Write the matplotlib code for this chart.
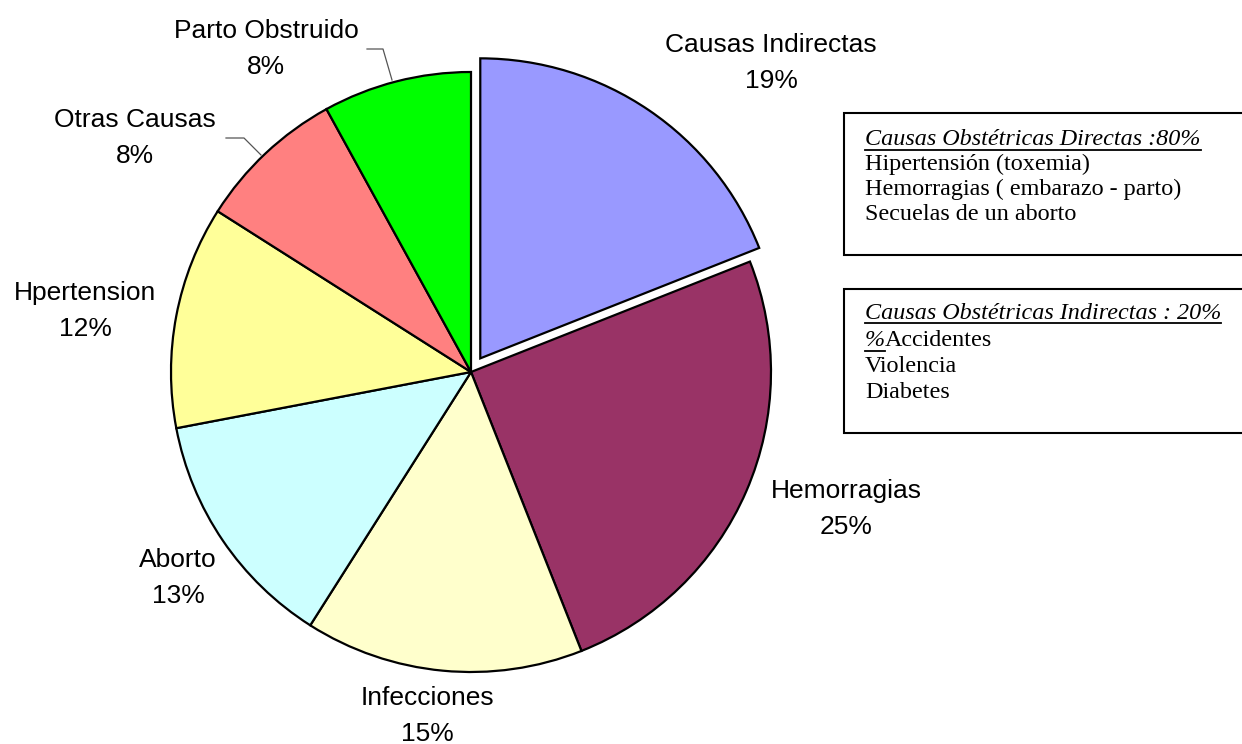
import matplotlib
matplotlib.use('Agg')
import matplotlib.pyplot as plt
from matplotlib.patches import Rectangle

# datos del grafico
categorias = ['Causas Indirectas', 'Hemorragias', 'Infecciones', 'Aborto',
              'Hpertension', 'Otras Causas', 'Parto Obstruido']
porcentajes = [19, 25, 15, 13, 12, 8, 8]
colores = ['#9999FF', '#993366', '#FFFFCC', '#CCFFFF', '#FFFF99', '#FF8080', '#00FF00']
separado = [0.055, 0, 0, 0, 0, 0, 0]

caja_directas_titulo = 'Causas Obstétricas Directas :80%'
caja_directas = ['Hipertensión (toxemia)', 'Hemorragias ( embarazo - parto)', 'Secuelas de un aborto']
caja_indirectas_titulo = 'Causas Obstétricas Indirectas : 20%'
caja_indirectas = ['Accidentes', 'Violencia', 'Diabetes']

# posiciones de las etiquetas (x centro, linea base en pixeles desde arriba)
pos_etiquetas = [(771, 52), (846, 498), (427, 705), (178, 567), (85, 300), (135, 127), (266, 38)]

W, H = 1242, 744
fig = plt.figure(figsize=(12.42, 7.44), dpi=100)
ax = fig.add_axes([0, 0, 1, 1])


def py(y):
    return H - y


radio = 300
ax.pie(porcentajes, colors=colores, startangle=90, counterclock=False,
       center=(471, py(372)), radius=radio, explode=[e * radio for e in separado],
       wedgeprops=dict(edgecolor='black', linewidth=1.6), frame=True)
ax.set_xlim(0, W)
ax.set_ylim(0, H)
ax.set_aspect('equal')
ax.axis('off')

fuente = 'Liberation Sans'
for nombre, v, (x, yb) in zip(categorias, porcentajes, pos_etiquetas):
    ax.text(x, py(yb), nombre, ha='center', va='baseline', fontsize=19, family=fuente)
    ax.text(x, py(yb + 36), f'{v}%', ha='center', va='baseline', fontsize=19, family=fuente)

# lineas guia
ax.plot([367, 383, 392], [py(49), py(49), py(80)], color='#555555', lw=0.9)
ax.plot([226, 244, 261], [py(138), py(138), py(155)], color='#555555', lw=0.9)

# cajas de texto
serif = 'Liberation Serif'
tam = 17.4
ax.add_patch(Rectangle((843.5, py(255)), 420, 142, facecolor='white',
                       edgecolor='black', lw=1.5, clip_on=False))
ax.add_patch(Rectangle((843.5, py(433)), 420, 144, facecolor='white',
                       edgecolor='black', lw=1.5, clip_on=False))

t1 = ax.text(865, py(145), caja_directas_titulo, fontsize=tam, family=serif,
             style='italic', va='baseline')
for i, linea in enumerate(caja_directas):
    ax.text(865, py(170 + 25 * i), linea, fontsize=tam, family=serif, va='baseline')

t2 = ax.text(865, py(319), caja_indirectas_titulo, fontsize=tam, family=serif,
             style='italic', va='baseline')
t3 = ax.text(865, py(346), '%', fontsize=tam, family=serif, style='italic', va='baseline')

fig.canvas.draw()
r = fig.canvas.get_renderer()
inv = ax.transData.inverted()


def subrayar(t, y):
    bb = t.get_window_extent(r)
    (x0, _), (x1, _) = inv.transform([(bb.x0, bb.y0), (bb.x1, bb.y1)])
    ax.plot([x0, x1], [y, y], color='black', lw=1.3)
    return x1


subrayar(t1, py(150))
subrayar(t2, py(323))
xr = subrayar(t3, py(351))
for i, linea in enumerate(caja_indirectas):
    ax.text(xr if i == 0 else 865, py(346 + 26 * i), linea, fontsize=tam,
            family=serif, va='baseline')

fig.savefig('out.png', dpi=100)
